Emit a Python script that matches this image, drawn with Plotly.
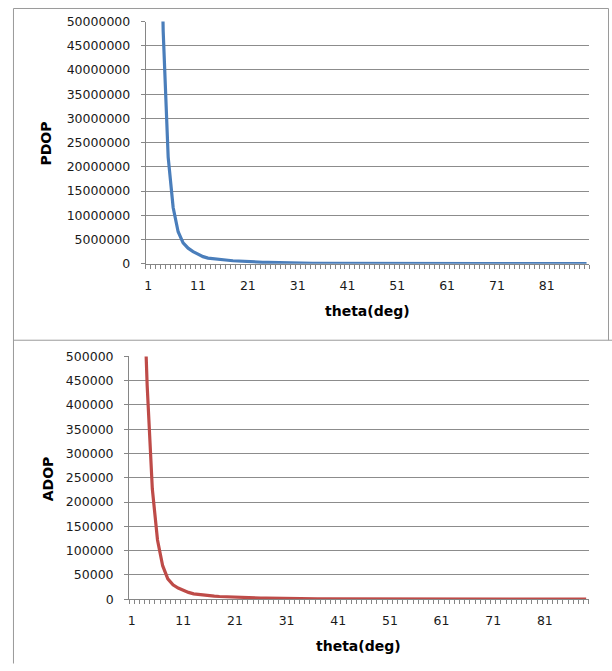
import plotly.graph_objects as go

# ---------------- data ----------------
theta = list(range(1, 90))  # categories 1..89 (deg)

pdop = [5.0e9, 6.0e8, 1.0e8, 4.8e7, 2.2e7, 1.16e7, 6.6e6, 4.3e6, 3.2e6, 2.5e6,
        1.9e6, 1.45e6, 1.15e6, 1.0e6, 9.0e5, 8.0e5, 7.0e5, 6.0e5, 5.2e5, 4.5e5,
        4.0e5, 3.5e5, 3.1e5, 2.8e5, 2.5e5, 2.1e5, 1.7e5, 1.4e5, 1.15e5, 9.5e4,
        8.2e4, 7.2e4, 6.4e4, 5.7e4, 5.1e4, 4.6e4, 4.1e4, 3.7e4, 3.4e4, 3.1e4,
        2.8e4, 2.6e4, 2.4e4, 2.2e4, 2.0e4, 1.9e4, 1.75e4, 1.6e4, 1.5e4, 1.4e4,
        13000, 12200, 11400, 10700, 10000, 9400, 8900, 8400, 7900, 7500,
        7100, 6700, 6400, 6100, 5800, 5500, 5300, 5100, 4900, 4700,
        4500, 4350, 4200, 4050, 3900, 3800, 3700, 3600, 3500, 3400,
        3320, 3250, 3180, 3120, 3070, 3030, 3000, 2980, 2970]

adop = [5.0e7, 5.0e6, 7.5e5, 4.4e5, 2.27e5, 1.22e5, 6.9e4, 4.2e4, 2.95e4, 2.3e4,
        1.77e4, 1.4e4, 1.1e4, 9500, 8000, 7000, 6200, 5500, 4900, 4300,
        3900, 3500, 3200, 2900, 2700, 2300, 2000, 1700, 1500, 1300,
        1150, 1020, 910, 820, 740, 670, 610, 560, 510, 470,
        430, 400, 370, 340, 315, 295, 275, 255, 240, 225,
        210, 198, 186, 175, 165, 156, 148, 140, 133, 126,
        120, 114, 109, 104, 99, 95, 91, 88, 85, 82,
        79, 77, 75, 73, 71, 69, 68, 66, 65, 64,
        63, 62, 61, 60, 60, 59, 59, 58, 58]

x_tick_labels = ["1", "11", "21", "31", "41", "51", "61", "71", "81"]
pdop_ticks = [0, 5000000, 10000000, 15000000, 20000000, 25000000,
              30000000, 35000000, 40000000, 45000000, 50000000]
adop_ticks = [0, 50000, 100000, 150000, 200000, 250000,
              300000, 350000, 400000, 450000, 500000]

# ---------------- layout helpers ----------------
W, H = 612, 671
# the photographed page is shifted / squeezed vertically a little; compensate
Y_OFF, Y_SCALE = 7.5, 0.977
def px(x):
    return x / W
def py(y):
    yf = (y - Y_OFF) / Y_SCALE
    yf = min(max(yf, 0.5), H - 0.5)
    return 1 - yf / H

GRID = "#8c8c8c"
AXIS = "#868686"
BORDER = "#9a9a9a"
TICKFONT = dict(family="DejaVu Sans", size=12.5, color="#1a1a1a")
TITLEFONT = dict(family="DejaVu Sans", size=14, color="#000000")

x_tick_vals = [int(t) for t in x_tick_labels]
minor_vals = [t - 0.5 for t in theta] + [theta[-1] + 0.5]

fig = go.Figure()
fig.add_trace(go.Scatter(x=theta, y=pdop, mode="lines",
                         line=dict(color="#4A7EBB", width=3.2),
                         xaxis="x", yaxis="y", showlegend=False, hoverinfo="skip"))
fig.add_trace(go.Scatter(x=theta, y=adop, mode="lines",
                         line=dict(color="#BE4B48", width=3.2),
                         xaxis="x2", yaxis="y2", showlegend=False, hoverinfo="skip"))

def xaxis_cfg(domain, anchor):
    return dict(domain=domain, anchor=anchor, range=[0.5, len(theta) + 0.5],
                tickmode="array", tickvals=x_tick_vals, ticktext=x_tick_labels,
                ticks="", showgrid=False, zeroline=False,
                showline=True, linecolor=AXIS, linewidth=1,
                tickfont=TICKFONT, ticklabelstandoff=10,
                minor=dict(tickmode="array", tickvals=minor_vals, ticks="outside",
                           ticklen=4, tickcolor=AXIS, tickwidth=1, showgrid=False),
                fixedrange=True)

def yaxis_cfg(domain, anchor, ticks, top):
    return dict(domain=domain, anchor=anchor, range=[0, top],
                tickmode="array", tickvals=ticks, ticktext=[str(t) for t in ticks],
                ticks="outside", ticklen=4, tickcolor=AXIS, tickwidth=1,
                showgrid=True, gridcolor=GRID, gridwidth=1,
                zeroline=False, showline=True, linecolor=AXIS, linewidth=1,
                tickfont=TICKFONT, ticklabelstandoff=8, fixedrange=True)

fig.update_layout(
    width=W, height=H, autosize=False,
    margin=dict(l=0, r=0, t=0, b=0),
    paper_bgcolor="white", plot_bgcolor="white",
    xaxis=xaxis_cfg([px(145), px(589)], "y"),
    yaxis=yaxis_cfg([py(263), py(21)], "x", pdop_ticks, pdop_ticks[-1]),
    xaxis2=xaxis_cfg([px(128.3), px(588.7)], "y2"),
    yaxis2=yaxis_cfg([py(598.3), py(355.7)], "x2", adop_ticks, adop_ticks[-1]),
)

annotations = [
    dict(text="<b>PDOP</b>", x=px(45), y=py(143), textangle=-90),
    dict(text="<b>theta(deg)</b>", x=px(367), y=py(310)),
    dict(text="<b>ADOP</b>", x=px(46.5), y=py(478), textangle=-90),
    dict(text="<b>theta(deg)</b>", x=px(358.5), y=py(645)),
]
for a in annotations:
    a.update(xref="paper", yref="paper", showarrow=False,
             xanchor="center", yanchor="middle", font=TITLEFONT)
fig.update_layout(annotations=annotations)

# outer chart borders
border_lines = [
    (12.5, 5.5, 608.5, 5.5),
    (608.5, 5.5, 608.5, 339.5),
    (12.5, 339.5, 612, 339.5),
    (12.5, 5.5, 12.5, 671),
]
fig.update_layout(shapes=[
    dict(type="line", xref="paper", yref="paper",
         x0=px(a), y0=py(b), x1=px(c), y1=py(d),
         line=dict(color=BORDER, width=1))
    for a, b, c, d in border_lines
])

fig.write_html("out.html",
               config={"displayModeBar": False},
               post_script="document.body.style.margin='0';"
                           "document.body.style.overflow='hidden';")
